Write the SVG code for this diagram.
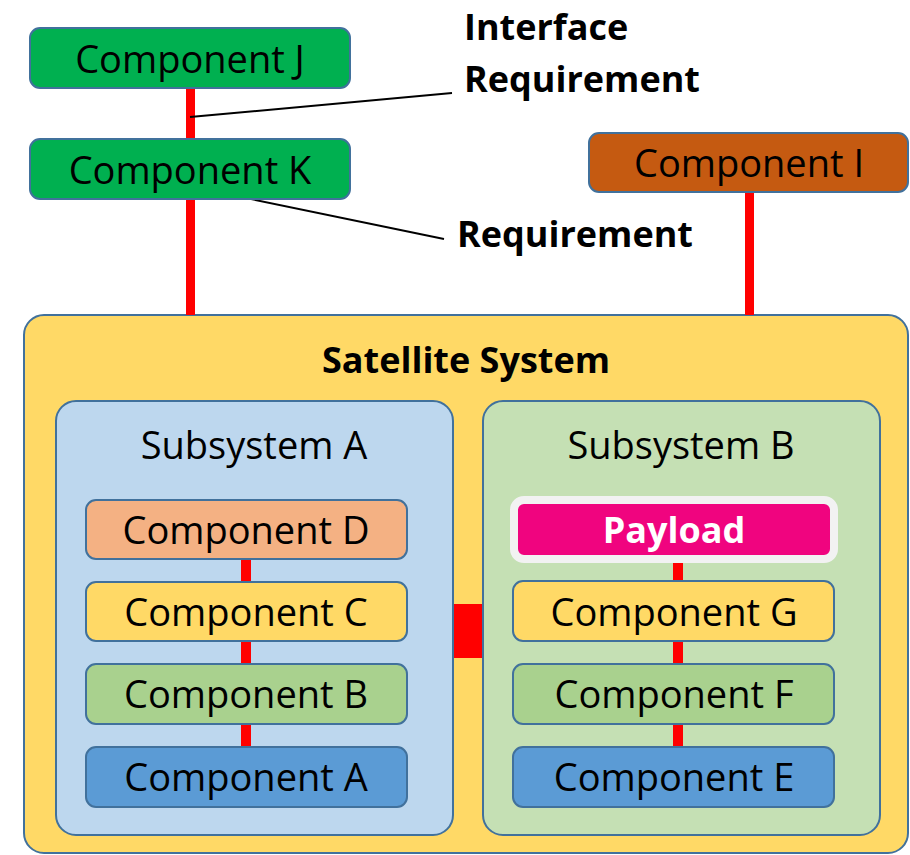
<svg xmlns="http://www.w3.org/2000/svg" width="910" height="855" viewBox="0 0 910 855">
<style>
.box{stroke:#41719C;stroke-width:2}
.lbl{font-family:"Open Sans","Noto Sans",sans-serif;font-size:38px;fill:#000;text-anchor:middle}
.bold{font-family:"Open Sans","Noto Sans",sans-serif;font-size:36px;font-weight:bold;fill:#000}
.red{fill:#FF0000}
.lead{stroke:#000;stroke-width:2;fill:none}
</style>
<rect width="910" height="855" fill="#FFFFFF"/>
<g id="satellite-system">
<rect class="box" x="24" y="315" width="884" height="538" rx="20" fill="#FFD966"/>
<text class="bold" x="466" y="373" text-anchor="middle">Satellite System</text>
</g>
<g id="subsystem-a">
<rect class="box" x="56" y="401" width="397" height="434" rx="20" fill="#BDD7EE"/>
<text class="lbl" x="254" y="459">Subsystem A</text>
</g>
<g id="subsystem-b">
<rect class="box" x="483" y="401" width="397" height="434" rx="20" fill="#C5E0B4"/>
<text class="lbl" x="681" y="459">Subsystem B</text>
</g>
<g id="connectors">
<rect class="red" x="186" y="88" width="9" height="52"/>
<rect class="red" x="186" y="199" width="9" height="116"/>
<rect class="red" x="745" y="192" width="9" height="123"/>
<rect class="red" x="241" y="559" width="10" height="24"/>
<rect class="red" x="241" y="641" width="10" height="24"/>
<rect class="red" x="241" y="724" width="10" height="24"/>
<rect class="red" x="673" y="559" width="10" height="23"/>
<rect class="red" x="673" y="641" width="10" height="24"/>
<rect class="red" x="673" y="724" width="10" height="24"/>
<rect class="red" x="454" y="604" width="28" height="54"/>
<line class="lead" x1="190" y1="117" x2="452" y2="93"/>
<line class="lead" x1="246" y1="198" x2="444" y2="239"/>
</g>
<g id="component-j">
<rect class="box" x="30" y="28" width="320" height="60" rx="10" fill="#00B050"/>
<text class="lbl" x="190" y="73">Component J</text>
</g>
<g id="component-k">
<rect class="box" x="30" y="139" width="320" height="60" rx="10" fill="#00B050"/>
<text class="lbl" x="190" y="184">Component K</text>
</g>
<g id="component-i">
<rect class="box" x="589" y="133" width="319" height="59" rx="10" fill="#C55A11"/>
<text class="lbl" x="749" y="177">Component I</text>
</g>
<g id="label-interface-requirement">
<text class="bold" x="464" y="40">Interface</text>
<text class="bold" x="464" y="92">Requirement</text>
</g>
<g id="label-requirement">
<text class="bold" x="457" y="247">Requirement</text>
</g>
<g id="component-d">
<rect class="box" x="86" y="500" width="321" height="59" rx="10" fill="#F4B183"/>
<text class="lbl" x="246" y="544">Component D</text>
</g>
<g id="component-c">
<rect class="box" x="86" y="582" width="321" height="59" rx="10" fill="#FFD966"/>
<text class="lbl" x="246" y="626">Component C</text>
</g>
<g id="component-b">
<rect class="box" x="86" y="664" width="321" height="60" rx="10" fill="#A9D18E"/>
<text class="lbl" x="246" y="708">Component B</text>
</g>
<g id="component-a">
<rect class="box" x="86" y="747" width="321" height="60" rx="10" fill="#5B9BD5"/>
<text class="lbl" x="246" y="791">Component A</text>
</g>
<g id="payload">
<rect x="514" y="500" width="320" height="59" rx="10" fill="#F0047F" stroke="#F2F2F2" stroke-width="8"/>
<text class="bold" x="674" y="543" text-anchor="middle" style="fill:#FFFFFF">Payload</text>
</g>
<g id="component-g">
<rect class="box" x="513" y="581" width="321" height="60" rx="10" fill="#FFD966"/>
<text class="lbl" x="674" y="626">Component G</text>
</g>
<g id="component-f">
<rect class="box" x="513" y="664" width="321" height="60" rx="10" fill="#A9D18E"/>
<text class="lbl" x="674" y="708">Component F</text>
</g>
<g id="component-e">
<rect class="box" x="513" y="747" width="321" height="60" rx="10" fill="#5B9BD5"/>
<text class="lbl" x="674" y="791">Component E</text>
</g>
</svg>
